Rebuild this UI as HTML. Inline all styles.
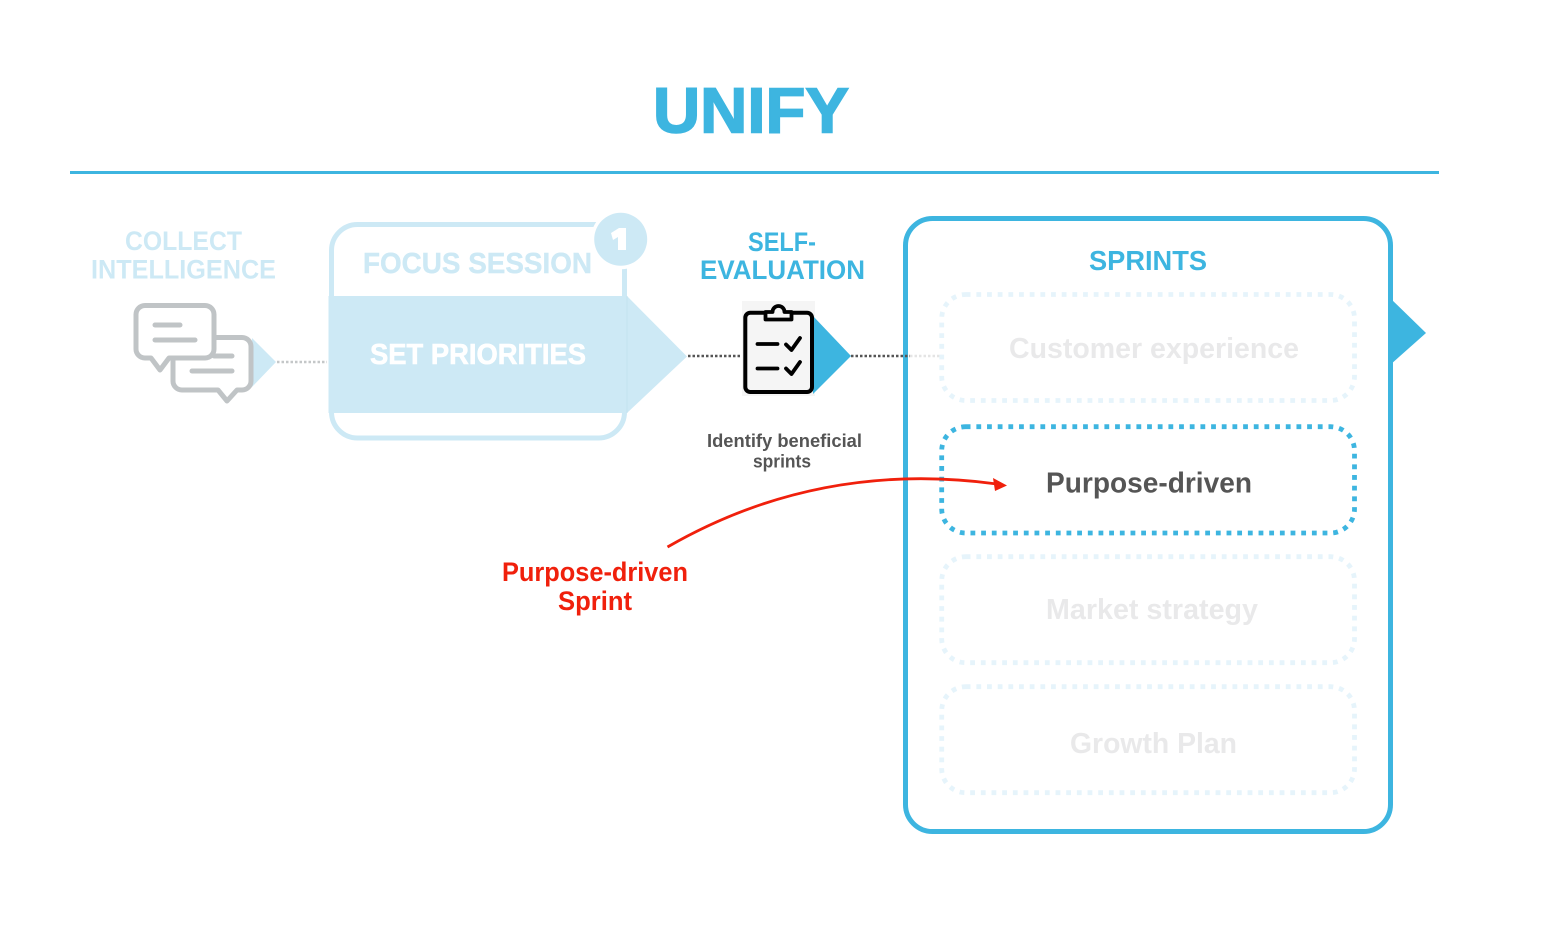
<!DOCTYPE html>
<html>
<head>
<meta charset="utf-8">
<style>
html,body{margin:0;padding:0;background:#fff;width:1553px;height:932px;overflow:hidden}
svg{display:block}
text{font-family:"Liberation Sans",sans-serif;font-weight:bold}
</style>
</head>
<body>
<svg width="1553" height="932" viewBox="0 0 1553 932" xmlns="http://www.w3.org/2000/svg">
<rect width="1553" height="932" fill="#fff"/>

<!-- Title -->
<text x="653" y="132.5" font-size="64" fill="#3db5e0" stroke="#3db5e0" stroke-width="1.6" textLength="196" lengthAdjust="spacingAndGlyphs">UNIFY</text>
<rect x="70" y="171" width="1369" height="3" fill="#3db5e0"/>

<!-- Collect intelligence -->
<text x="125" y="250" font-size="27" fill="#cde9f5" textLength="117" lengthAdjust="spacingAndGlyphs">COLLECT</text>
<text x="91" y="278.5" font-size="27" fill="#cde9f5" textLength="185" lengthAdjust="spacingAndGlyphs">INTELLIGENCE</text>
<polygon points="252,338 276,362 252,387" fill="#cde9f5"/>
<line x1="277" y1="362" x2="327" y2="362" stroke="#c4c7c8" stroke-width="2.5" stroke-dasharray="2.5 2"/>
<!-- chat icon -->
<g fill="#fff" stroke="#c0c4c6" stroke-width="5" stroke-linejoin="round" stroke-linecap="round">
<path d="M182 337.5H242a9 9 0 0 1 9 9V381a9 9 0 0 1 -9 9H237L227 401L218 390H182a9 9 0 0 1 -9 -9V346.5a9 9 0 0 1 9 -9Z"/>
<line x1="214" y1="356" x2="232" y2="356"/>
<line x1="192" y1="371" x2="232" y2="371"/>
<path d="M145 305.500H205a9 9 0 0 1 9 9V349a9 9 0 0 1 -9 9H169L160 370L151 358H145a9 9 0 0 1 -9 -9V314.500a9 9 0 0 1 9 -9Z"/>
<line x1="155" y1="325" x2="180" y2="325"/>
<line x1="155" y1="340" x2="195" y2="340"/>
</g>

<!-- Focus session -->
<rect x="331.500" y="224.500" width="293" height="213.500" rx="26" fill="#fff" stroke="#cde9f5" stroke-width="5"/>
<text x="363" y="273" font-size="29" fill="#cde9f5" stroke="#cde9f5" stroke-width="0.4" textLength="229" lengthAdjust="spacingAndGlyphs">FOCUS SESSION</text>
<polygon points="328.500,296 627,296 687,356.500 627,413 328.500,413" fill="#cde9f5"/>
<line x1="627" y1="296" x2="627" y2="413" stroke="#c4e2ef" stroke-width="1"/>
<text x="370" y="364" font-size="29" fill="#fff" stroke="#fff" stroke-width="0.6" textLength="216" lengthAdjust="spacingAndGlyphs">SET PRIORITIES</text>
<circle cx="620.700" cy="239.300" r="30" fill="#fff"/>
<circle cx="620.700" cy="239.300" r="26.500" fill="#cde9f5"/>
<path d="M611 233L619 228H626V250H618V237L613 240Z" fill="#fff"/>

<!-- Connector focus to eval -->
<line x1="688" y1="356" x2="741" y2="356" stroke="#555" stroke-width="2.5" stroke-dasharray="2.5 2"/>

<!-- Self-evaluation -->
<text x="748" y="251" font-size="27" fill="#3db5e0" textLength="68" lengthAdjust="spacingAndGlyphs">SELF-</text>
<text x="700" y="279" font-size="27" fill="#3db5e0" textLength="165" lengthAdjust="spacingAndGlyphs">EVALUATION</text>
<rect x="742" y="301" width="73" height="95" fill="#f5f5f5"/>
<polygon points="813,316 851,356 813,394" fill="#3db5e0"/>
<rect x="745.300" y="312.700" width="66.700" height="79.300" rx="5" fill="#f5f5f5" stroke="#000" stroke-width="4"/>
<path d="M765.500 312V319.500H791.500V312H784.500A6 6 0 0 0 772.500 312Z" fill="#f5f5f5" stroke="#000" stroke-width="3.800" stroke-linejoin="round"/>
<g fill="none" stroke="#000" stroke-width="3.800" stroke-linecap="round" stroke-linejoin="round">
<line x1="757.500" y1="344" x2="777.500" y2="344"/>
<path d="M786 344.500L791.500 350L800 338"/>
<line x1="757.500" y1="368.500" x2="777.500" y2="368.500"/>
<path d="M786 368.500L791.500 374L800 362"/>
</g>
<text x="707" y="447" font-size="18.500" fill="#555" textLength="155" lengthAdjust="spacingAndGlyphs">Identify beneficial</text>
<text x="753" y="467.500" font-size="18.500" fill="#555" textLength="58" lengthAdjust="spacingAndGlyphs">sprints</text>

<!-- Sprints container -->
<polygon points="1390,298 1426,333 1390,365" fill="#3db5e0"/>
<rect x="905.500" y="218.500" width="485" height="613" rx="27" fill="#fff" stroke="#3db5e0" stroke-width="5"/>
<line x1="851" y1="356" x2="910" y2="356" stroke="#555" stroke-width="2.500" stroke-dasharray="2.500 2"/>
<line x1="910" y1="356" x2="942" y2="356" stroke="#e4e4e4" stroke-width="2.500" stroke-dasharray="2.500 2"/>
<text x="1089" y="270" font-size="28" fill="#3db5e0" textLength="118" lengthAdjust="spacingAndGlyphs">SPRINTS</text>

<g fill="none" stroke-width="4.800" stroke-dasharray="4.800 5.870">
<rect x="941.700" y="294.500" width="412.800" height="106" rx="24" stroke="#e6f4fb"/>
<rect x="941.700" y="426.700" width="412.800" height="106.300" rx="24" stroke="#3db5e0"/>
<rect x="941.700" y="556.700" width="412.800" height="106" rx="24" stroke="#e6f4fb"/>
<rect x="941.700" y="686.700" width="412.800" height="106" rx="24" stroke="#e6f4fb"/>
</g>
<text x="1009" y="358" font-size="29" fill="#e9e9ea" textLength="290" lengthAdjust="spacingAndGlyphs">Customer experience</text>
<text x="1046" y="492.500" font-size="29" fill="#555" textLength="206" lengthAdjust="spacingAndGlyphs">Purpose-driven</text>
<text x="1046" y="619" font-size="29" fill="#e9e9ea" textLength="212" lengthAdjust="spacingAndGlyphs">Market strategy</text>
<text x="1070" y="753" font-size="29" fill="#e9e9ea" textLength="167" lengthAdjust="spacingAndGlyphs">Growth Plan</text>

<!-- Red annotation -->
<path d="M667.500 547C770 488 880 468 997 484" fill="none" stroke="#f0200c" stroke-width="2.800"/>
<polygon points="1007,485.500 993,478 995,491" fill="#f0200c"/>
<text x="502" y="581" font-size="27" fill="#f0200c" textLength="186" lengthAdjust="spacingAndGlyphs">Purpose-driven</text>
<text x="558" y="610" font-size="27" fill="#f0200c" textLength="74" lengthAdjust="spacingAndGlyphs">Sprint</text>
</svg>
</body>
</html>
